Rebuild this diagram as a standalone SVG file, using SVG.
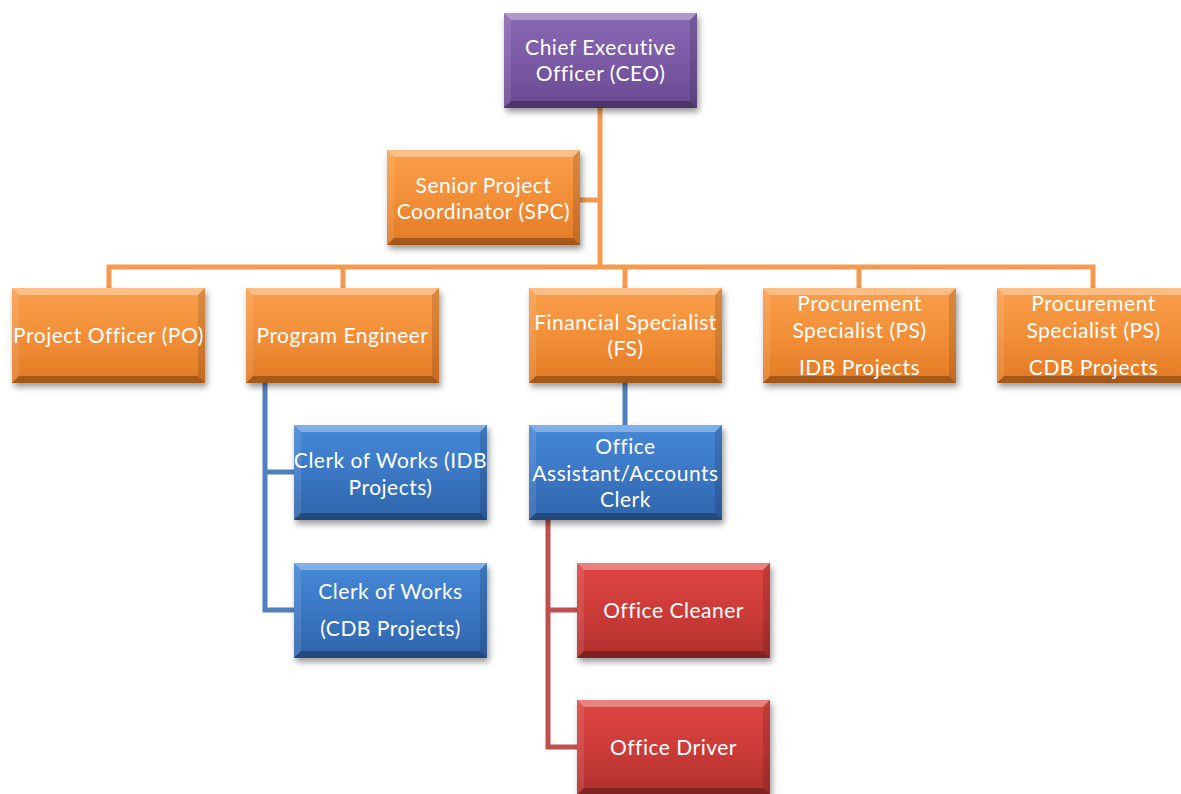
<svg xmlns="http://www.w3.org/2000/svg" xmlns:xlink="http://www.w3.org/1999/xlink" width="1181" height="794" viewBox="0 0 1181 794">
  <style>
    .lbl { fill: #ffffff; font-family: Lato, "Open Sans", "Liberation Sans", sans-serif; font-size: 21px; letter-spacing: 0.5px; text-anchor: middle; }
    .wire { fill: none; stroke-width: 5; stroke-linejoin: miter; stroke-linecap: butt; }
    .w-orange { stroke: #f5994f; }
    .w-blue { stroke: #4f7fbf; }
    .w-red { stroke: #c0504d; }
    .box { filter: url(#shadow); }
    .purple { fill: url(#gPurple); }
    .orange { fill: url(#gOrange); }
    .blue { fill: url(#gBlue); }
    .red { fill: url(#gRed); }
  </style>
  <defs>
    <filter id="shadow" x="-10%" y="-10%" width="125%" height="135%">
      <feDropShadow dx="2" dy="4" stdDeviation="3" flood-color="#000000" flood-opacity="0.4"/>
    </filter>
    <linearGradient id="gPurple" x1="0" y1="0" x2="0" y2="1">
      <stop offset="0" stop-color="#8a69b4"/>
      <stop offset="0.5" stop-color="#7b5aa6"/>
      <stop offset="1" stop-color="#694a90"/>
    </linearGradient>
    <linearGradient id="gOrange" x1="0" y1="0" x2="0" y2="1">
      <stop offset="0" stop-color="#fa9f4b"/>
      <stop offset="0.5" stop-color="#f28f38"/>
      <stop offset="1" stop-color="#e27a24"/>
    </linearGradient>
    <linearGradient id="gBlue" x1="0" y1="0" x2="0" y2="1">
      <stop offset="0" stop-color="#4689d8"/>
      <stop offset="0.5" stop-color="#3b77c4"/>
      <stop offset="1" stop-color="#2f64ab"/>
    </linearGradient>
    <linearGradient id="gRed" x1="0" y1="0" x2="0" y2="1">
      <stop offset="0" stop-color="#de4541"/>
      <stop offset="0.5" stop-color="#cc3c39"/>
      <stop offset="1" stop-color="#b02f2d"/>
    </linearGradient>
    <!-- bevelled edge overlay for a 193x95 box -->
    <g id="bevel">
      <polygon points="0,0 193,0 186,7 7,7" fill="#ffffff" fill-opacity="0.33"/>
      <polygon points="0,0 7,7 7,88 0,95" fill="#ffffff" fill-opacity="0.1"/>
      <polygon points="193,0 193,95 186,88 186,7" fill="#000000" fill-opacity="0.13"/>
      <polygon points="0,95 7,88 186,88 193,95" fill="#000000" fill-opacity="0.28"/>
    </g>
  </defs>

  <rect width="1181" height="794" fill="#ffffff"/>

  <g id="connectors">
    <path class="wire w-orange" d="M600,108 V267 M580,200 H600 M109,288 V267 H1093 V288 M343,267 V288 M625,267 V288 M859,267 V288"/>
    <path class="wire w-blue" d="M265,382 V610 H294 M265,472 H294 M625,382 V425"/>
    <path class="wire w-red" d="M548,520 V747 H577 M548,610 H577"/>
  </g>

  <g id="ceo" transform="translate(504,13)">
    <rect class="box purple" width="193" height="95"/>
    <use xlink:href="#bevel"/>
    <text class="lbl" x="96.5" y="42">Chief Executive</text>
    <text class="lbl" x="96.5" y="68">Officer (CEO)</text>
  </g>

  <g id="spc" transform="translate(387,150)">
    <rect class="box orange" width="193" height="95"/>
    <use xlink:href="#bevel"/>
    <text class="lbl" x="96.5" y="43">Senior Project</text>
    <text class="lbl" x="96.5" y="69">Coordinator (SPC)</text>
  </g>

  <g id="po" transform="translate(12,288)">
    <rect class="box orange" width="193" height="95"/>
    <use xlink:href="#bevel"/>
    <text class="lbl" x="96.5" y="55">Project Officer (PO)</text>
  </g>

  <g id="pe" transform="translate(246,288)">
    <rect class="box orange" width="193" height="95"/>
    <use xlink:href="#bevel"/>
    <text class="lbl" x="96.5" y="55">Program Engineer</text>
  </g>

  <g id="fs" transform="translate(529,288)">
    <rect class="box orange" width="193" height="95"/>
    <use xlink:href="#bevel"/>
    <text class="lbl" x="96.5" y="42">Financial Specialist</text>
    <text class="lbl" x="96.5" y="68">(FS)</text>
  </g>

  <g id="ps-idb" transform="translate(763,288)">
    <rect class="box orange" width="193" height="95"/>
    <use xlink:href="#bevel"/>
    <text class="lbl" x="96.5" y="23">Procurement</text>
    <text class="lbl" x="96.5" y="50">Specialist (PS)</text>
    <text class="lbl" x="96.5" y="87">IDB Projects</text>
  </g>

  <g id="ps-cdb" transform="translate(997,288)">
    <rect class="box orange" width="193" height="95"/>
    <use xlink:href="#bevel"/>
    <text class="lbl" x="96.5" y="23">Procurement</text>
    <text class="lbl" x="96.5" y="50">Specialist (PS)</text>
    <text class="lbl" x="96.5" y="87">CDB Projects</text>
  </g>

  <g id="cow-idb" transform="translate(294,425)">
    <rect class="box blue" width="193" height="95"/>
    <use xlink:href="#bevel"/>
    <text class="lbl" x="96.5" y="43">Clerk of Works (IDB</text>
    <text class="lbl" x="96.5" y="70">Projects)</text>
  </g>

  <g id="cow-cdb" transform="translate(294,563)">
    <rect class="box blue" width="193" height="95"/>
    <use xlink:href="#bevel"/>
    <text class="lbl" x="96.5" y="36">Clerk of Works</text>
    <text class="lbl" x="96.5" y="73">(CDB Projects)</text>
  </g>

  <g id="oa" transform="translate(529,425)">
    <rect class="box blue" width="193" height="95"/>
    <use xlink:href="#bevel"/>
    <text class="lbl" x="96.5" y="29">Office</text>
    <text class="lbl" x="96.5" y="56">Assistant/Accounts</text>
    <text class="lbl" x="96.5" y="82">Clerk</text>
  </g>

  <g id="cleaner" transform="translate(577,563)">
    <rect class="box red" width="193" height="95"/>
    <use xlink:href="#bevel"/>
    <text class="lbl" x="96.5" y="55">Office Cleaner</text>
  </g>

  <g id="driver" transform="translate(577,700)">
    <rect class="box red" width="193" height="95"/>
    <use xlink:href="#bevel"/>
    <text class="lbl" x="96.5" y="55">Office Driver</text>
  </g>
</svg>
